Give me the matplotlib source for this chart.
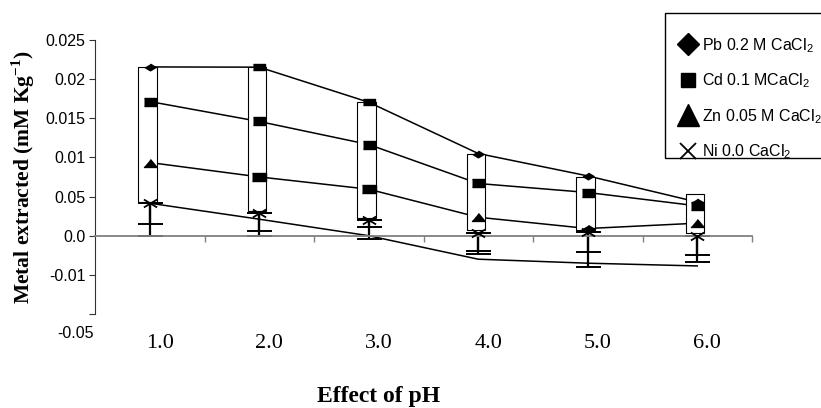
import numpy as np
import matplotlib.pyplot as plt
import matplotlib.transforms as mtransforms
from matplotlib.lines import Line2D
from matplotlib.patches import Rectangle
from matplotlib.path import Path

plt.rcParams['mathtext.fontset'] = 'custom'
plt.rcParams['mathtext.rm'] = 'Liberation Sans'
plt.rcParams['mathtext.bf'] = 'Liberation Serif:bold'

# data (y axis has the odd labels of the original)
ph = [1, 2, 3, 4, 5, 6]
ph_labels = ['1.0', '2.0', '3.0', '4.0', '5.0', '6.0']
pb = [0.02156, 0.02153, 0.01705, 0.0105, 0.00764, 0.0043]
cd = [0.01714, 0.01459, 0.01165, 0.00667, 0.00552, 0.00381]
zn = [0.00935, 0.00751, 0.00594, 0.00236, 0.00092, 0.0016]
ni = [0.00415, 0.00296, 0.00202, 0.00041, 0.00049, 0.0]
ni_line = [0.00415, 0.00211, 0.0, -0.0030, -0.00351, -0.00386]
ni_low_a = [0.00156, 0.00061, 0.00112, -0.00194, -0.00207, -0.00249]
ni_low_b = [0.0, 0.0, -0.00045, -0.00236, -0.00406, -0.00335]
box_top = [0.02153, 0.02153, 0.01714, 0.0105, 0.00756, 0.00539]
box_bottom = [0.00428, 0.00317, 0.0022, 0.00074, 0.00074, 0.00032]
ytick_vals = [-0.01, -0.005, 0.0, 0.005, 0.01, 0.015, 0.02, 0.025]
ytick_labels = ['-0.05', '-0.01', '0.0', '0.05', '0.01', '0.015', '0.02', '0.025']
legend_labels = ['Pb 0.2 M CaCl$_2$', 'Cd 0.1 MCaCl$_2$', 'Zn 0.05 M CaCl$_2$', 'Ni 0.0 CaCl$_2$']

# squashed markers like in the original
sq = 0.6
m_diamond = [(0, sq), (1, 0), (0, -sq), (-1, 0)]
m_rect = [(-1, -sq), (1, -sq), (1, sq), (-1, sq)]
m_tri = [(-1, -sq), (1, -sq), (0, sq)]
m_x = Path([(-1, -sq), (1, sq), (-1, sq), (1, -sq)],
           [Path.MOVETO, Path.LINETO, Path.MOVETO, Path.LINETO])

fig = plt.figure(figsize=(8.21, 4.08), dpi=100)
ax = fig.add_axes([95 / 821, 1 - 314 / 408, 657 / 821, 274 / 408])

x = np.array(ph)
# lines
for s in [pb, cd, zn, ni_line]:
    ax.plot(x, s, color='black', lw=1.1, zorder=1)

# up/down boxes
top = np.array(box_top)
bot = np.array(box_bottom)
ax.bar(x - 0.02, top - bot, bottom=bot, width=0.17, facecolor='white',
       edgecolor='black', lw=0.8, zorder=2)

# error bars below Ni
ni_a = np.array(ni)
for low in [ni_low_a, ni_low_b]:
    ax.errorbar(x, ni_a, yerr=[ni_a - np.array(low), np.zeros(6)], fmt='none',
                ecolor='black', elinewidth=1.6, capsize=9, capthick=1.4, zorder=3)

# markers (the original mixes shapes at pH 2 and 3)
pb_marks = [m_diamond, m_rect, m_rect, m_diamond, m_diamond, m_diamond]
zn_marks = [m_tri, m_rect, m_rect, m_tri, m_diamond, m_tri]
for i in range(6):
    ax.plot(x[i], pb[i], marker=pb_marks[i], ms=8, color='black', ls='none', zorder=4)
    ax.plot(x[i], cd[i], marker=m_rect, ms=8.5, color='black', ls='none', zorder=4)
    ax.plot(x[i], zn[i], marker=zn_marks[i], ms=9.5, color='black', ls='none', zorder=4)
ax.plot(x, ni, marker=m_x, ms=9.5, mew=1.3, color='black', ls='none', zorder=4)

ax.set_xlim(0.5, 6.5)
ax.set_ylim(-0.01, 0.025)
for side in ['top', 'right']:
    ax.spines[side].set_visible(False)
ax.spines['left'].set_color('#333333')
ax.spines['bottom'].set_position(('data', 0))
ax.spines['bottom'].set_color('#808080')
ax.spines['bottom'].set_linewidth(1.3)
ax.spines['bottom'].set_zorder(3.5)

ax.set_yticks(ytick_vals)
ax.set_yticklabels(ytick_labels, fontsize=11.5, family='Liberation Sans')
ax.tick_params(axis='y', length=4, width=0.8, color='#333333', pad=3)
lab = ax.get_yticklabels()[0]
lab.set_transform(lab.get_transform() +
                  mtransforms.ScaledTranslation(0.08, -0.18, fig.dpi_scale_trans))

ax.set_xticks(np.arange(1.5, 7, 1.0))
ax.set_xticklabels([])
ax.tick_params(axis='x', length=4, width=1.0, color='#808080', direction='out')

trans = mtransforms.blended_transform_factory(ax.transData, ax.transAxes) + \
    mtransforms.ScaledTranslation(0.10, 0, fig.dpi_scale_trans)
for xi, lbl in zip(ph, ph_labels):
    ax.text(xi, -29 / 274, lbl, transform=trans, ha='center', va='center',
            fontsize=16, family='Liberation Serif')

fig.text(23 / 821, 1 - 177 / 408, r'Metal extracted (mM Kg$^{\mathbf{-1}}$)',
         rotation=90, ha='center', va='center', fontsize=15.5,
         family='Liberation Serif', weight='bold')
fig.text(379 / 821, 6 / 408, 'Effect of pH', ha='center', va='baseline',
         fontsize=17, family='Liberation Serif', weight='bold')

# legend
handles = [
    Line2D([], [], marker='D', ms=11, color='black', ls='none'),
    Line2D([], [], marker='s', ms=10.5, color='black', ls='none'),
    Line2D([], [], marker='^', ms=16, color='black', ls='none'),
    Line2D([], [], marker='x', ms=11.5, mew=1.3, color='black', ls='none'),
]
fig.legend(handles, legend_labels, loc='upper left',
           bbox_to_anchor=(680 / 821, 1 - 36 / 408), frameon=False,
           prop={'family': 'Liberation Sans', 'size': 11.5},
           handlelength=1.0, handletextpad=0.4, labelspacing=1.05,
           borderpad=0, borderaxespad=0)
fig.add_artist(Rectangle((665 / 821, 1 - 158 / 408), 0.3, 145 / 408,
                         transform=fig.transFigure, fill=False,
                         edgecolor='black', lw=1.0, zorder=5))

fig.savefig('out.png', dpi=100)
